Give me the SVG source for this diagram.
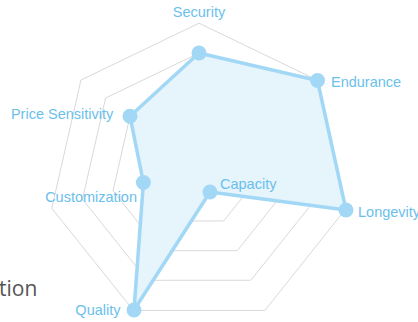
<svg xmlns="http://www.w3.org/2000/svg" width="418" height="322" viewBox="0 0 418 322">
<style>
.grid{fill:none;stroke:#d9d9d9;stroke-width:1}
.area{fill:#e6f4fc;stroke:#a2d8f5;stroke-width:3.5;stroke-linejoin:round}
.dot{fill:#a2d8f5}
.lbl{font-family:"Liberation Sans",Arial,sans-serif;font-size:14.5px;fill:#6bbfec}
.title{font-family:"Open Sans","Noto Sans",sans-serif;font-size:21px;fill:#555555}
</style>
<rect width="418" height="322" fill="#ffffff"/>
<g id="grid">
<polygon class="grid" points="199,142 219.33,151.79 224.35,173.79 210.28,191.43 187.72,191.43 173.65,173.79 178.67,151.79"/>
<polygon class="grid" points="199,112.6 243.56,134.06 254.57,182.28 223.73,220.96 174.27,220.96 143.43,182.28 154.44,134.06"/>
<polygon class="grid" points="199,83 267.96,116.21 284.99,190.83 237.27,250.67 160.73,250.67 113.01,190.83 130.04,116.21"/>
<polygon class="grid" points="199,53.1 292.43,98.09 315.5,199.19 250.85,280.27 147.15,280.27 82.5,199.19 105.57,98.09"/>
<polygon class="grid" points="199,23.2 317.06,80.05 346.21,208.3 264.8,310.5 133.5,310.5 51.79,208.3 80.94,80.05"/>
</g>
<g id="connectors">
<polygon class="area" points="199,53 317.5,80.5 346,210 210,192 134,310 143.4,182.5 130,116.3"/>
</g>
<g id="security"><circle class="dot" cx="199" cy="53" r="7.5"/><text class="lbl" x="199" y="17.3" text-anchor="middle">Security</text></g>
<g id="endurance"><circle class="dot" cx="317.5" cy="80.5" r="7.5"/><text class="lbl" x="331" y="86.7">Endurance</text></g>
<g id="longevity"><circle class="dot" cx="346" cy="210" r="7.5"/><text class="lbl" x="358" y="216.7">Longevity</text></g>
<g id="capacity"><circle class="dot" cx="210" cy="192" r="7.5"/><text class="lbl" x="220" y="188.8">Capacity</text></g>
<g id="quality"><circle class="dot" cx="134" cy="310" r="7.5"/><text class="lbl" x="120.5" y="315" text-anchor="end">Quality</text></g>
<g id="customization"><circle class="dot" cx="143.4" cy="182.5" r="7.5"/><text class="lbl" x="137" y="202.2" text-anchor="end">Customization</text></g>
<g id="price-sensitivity"><circle class="dot" cx="130" cy="116.3" r="7.5"/><text class="lbl" x="113.3" y="119.3" text-anchor="end">Price Sensitivity</text></g>
<text class="title" x="-1" y="295.5">tion</text>
</svg>
